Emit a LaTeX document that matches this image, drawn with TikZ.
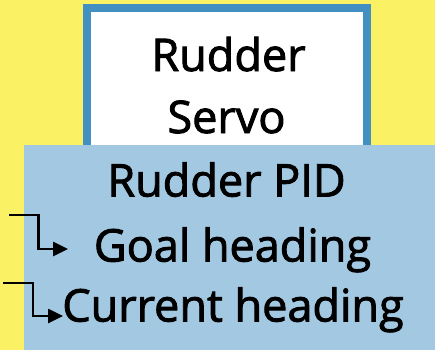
\documentclass[tikz,border=0pt]{standalone}
\usepackage{fontspec}
\newfontfamily\lblfont{Open Sans}[FakeBold=2]
\usetikzlibrary{arrows.meta}
\definecolor{bgyellow}{HTML}{FAF264}
\definecolor{servoblue}{HTML}{4290C2}
\definecolor{pidblue}{HTML}{A3C8E2}
\tikzset{
  servobox/.style={draw=servoblue, line width=8pt, fill=white, minimum width=280pt, minimum height=152pt, inner sep=0pt},
  pidbox/.style={fill=pidblue, draw=none, minimum width=411pt, minimum height=205pt, inner sep=0pt},
  labeltxt/.style={anchor=base, inner sep=0pt, font=\lblfont\fontsize{45}{55}\selectfont},
  elbow/.style={line width=2.6pt, -{Triangle[length=15pt,width=14pt]}},
}
\begin{document}
\begin{tikzpicture}[x=1pt,y=-1pt]
\fill[bgyellow] (0,0) rectangle (435,350);
\useasboundingbox (0,0) rectangle (435,350);
\node[servobox] (servo) at (226.7,84.5) {};
\node[labeltxt] (rudder) at (228.5,71) {Rudder};
\node[labeltxt] (servotxt) at (226.5,133) {Servo};
\node[pidbox] (pid) at (229.5,247.5) {};
\node[labeltxt] (pidtxt) at (226.5,196.5) {Rudder PID};
\node[labeltxt] (goal) at (232.5,261.5) {Goal heading};
\node[labeltxt] (current) at (233,321.5) {Current heading};
\coordinate (g0) at (9,215);
\coordinate (g1) at (68,249);
\coordinate (c0) at (3,283);
\coordinate (c1) at (63,316);
\draw[elbow] (g0) -| (38.5,249) -- (g1);
\draw[elbow] (c0) -| (33,316) -- (c1);
\end{tikzpicture}
\end{document}
